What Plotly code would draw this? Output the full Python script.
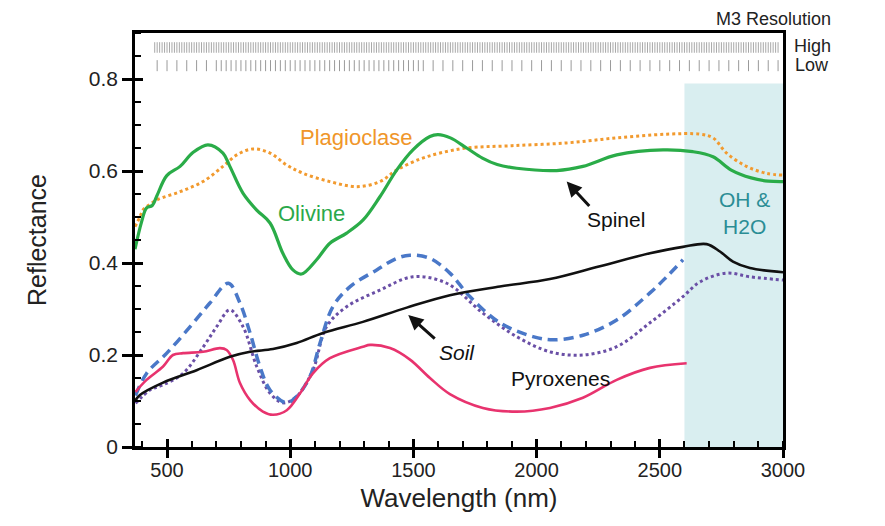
import plotly.graph_objects as go
import numpy as np

# ---------------- data ----------------
olivine_nm = [370, 397, 417, 440, 458, 499, 553, 605, 666, 727, 755, 808, 864, 918, 971, 1011, 1046,
              1107, 1161, 1229, 1295, 1364, 1432, 1498, 1567, 1600, 1650, 1716, 1780, 1840, 1919, 2081,
              2188, 2325, 2513, 2634, 2716, 2790, 2871, 2940, 3000]
olivine_r = [0.43, 0.49, 0.52, 0.525, 0.545, 0.59, 0.61, 0.64, 0.657, 0.639, 0.61, 0.552, 0.515, 0.487,
             0.42, 0.385, 0.376, 0.407, 0.443, 0.465, 0.493, 0.544, 0.602, 0.646, 0.675, 0.679, 0.672,
             0.65, 0.628, 0.614, 0.606, 0.601, 0.61, 0.635, 0.646, 0.642, 0.631, 0.602, 0.585, 0.578, 0.577]

plag_nm = [370, 390, 402, 417, 458, 553, 646, 727, 783, 849, 918, 986, 1052, 1161, 1270, 1364, 1432,
           1527, 1608, 1716, 1900, 2122, 2325, 2528, 2663, 2716, 2771, 2852, 2933, 3000]
plag_r = [0.479, 0.50, 0.515, 0.522, 0.537, 0.555, 0.577, 0.61, 0.635, 0.648, 0.639, 0.613, 0.595,
          0.577, 0.566, 0.577, 0.602, 0.626, 0.639, 0.65, 0.655, 0.661, 0.672, 0.68, 0.68, 0.672,
          0.639, 0.61, 0.595, 0.591]

soil_nm = [370, 390, 484, 620, 755, 837, 930, 1026, 1133, 1295, 1473, 1648, 1851, 2054, 2257, 2460,
           2594, 2690, 2744, 2797, 2866, 3000]
soil_r = [0.10, 0.113, 0.14, 0.167, 0.196, 0.207, 0.213, 0.226, 0.248, 0.272, 0.303, 0.33, 0.349,
          0.365, 0.393, 0.421, 0.435, 0.441, 0.425, 0.403, 0.389, 0.38]

pyx_dash_nm = [372, 417, 499, 593, 674, 749, 796, 837, 877, 918, 985, 1026, 1080, 1121, 1173, 1242,
               1351, 1432, 1486, 1567, 1648, 1729, 1851, 1985, 2066, 2188, 2325, 2460, 2528, 2594]
pyx_dash_r = [0.112, 0.16, 0.204, 0.261, 0.313, 0.356, 0.313, 0.248, 0.175, 0.124, 0.096, 0.11, 0.153,
              0.226, 0.305, 0.348, 0.385, 0.41, 0.417, 0.41, 0.378, 0.327, 0.27, 0.24, 0.233, 0.243,
              0.276, 0.335, 0.37, 0.407]

pyx_dot_nm = [372, 431, 484, 565, 650, 702, 755, 808, 864, 918, 971, 1026, 1092, 1148, 1229, 1364,
              1498, 1635, 1782, 1919, 2054, 2188, 2325, 2460, 2594, 2663, 2771, 2866, 3000]
pyx_dot_r = [0.095, 0.124, 0.135, 0.16, 0.22, 0.262, 0.298, 0.262, 0.175, 0.117, 0.096, 0.11, 0.167,
             0.262, 0.305, 0.341, 0.37, 0.356, 0.291, 0.24, 0.207, 0.20, 0.218, 0.27, 0.327, 0.359,
             0.378, 0.37, 0.363]

pyx_solid_nm = [372, 417, 484, 524, 565, 646, 715, 742, 768, 796, 837, 889, 930, 986, 1040, 1092,
                1161, 1295, 1324, 1405, 1486, 1567, 1648, 1782, 1919, 2054, 2188, 2325, 2460, 2609]
pyx_solid_r = [0.12, 0.146, 0.175, 0.20, 0.204, 0.207, 0.215, 0.211, 0.189, 0.139, 0.102, 0.077, 0.07,
               0.08, 0.117, 0.16, 0.193, 0.218, 0.222, 0.215, 0.19, 0.15, 0.115, 0.085, 0.077, 0.085,
               0.107, 0.146, 0.172, 0.182]

# M3 spectral channel positions (nm)
high_res_nm = list(range(450, 2990, 10))
low_res_nm = list(range(460, 700, 40)) + list(range(700, 1560, 20)) + list(range(1580, 3000, 40))

x_ticks = [500, 1000, 1500, 2000, 2500, 3000]
y_ticks = [0, 0.2, 0.4, 0.6, 0.8]
y_tick_text = ["0", "0.2", "0.4", "0.6", "0.8"]

FONT = "Liberation Sans, Arial, Helvetica, sans-serif"

fig = go.Figure()

# shaded OH & H2O region
fig.add_shape(type="rect", xref="x", yref="y", x0=2600, x1=3000, y0=0, y1=0.79,
              fillcolor="#d9eef0", line=dict(width=0), layer="below")


def tick_trace(xs, y0, y1, color):
    xx, yy = [], []
    for v in xs:
        xx += [v, v, None]
        yy += [y0, y1, None]
    return go.Scatter(x=xx, y=yy, mode="lines", line=dict(color=color, width=1),
                      hoverinfo="skip", showlegend=False)


fig.add_trace(tick_trace(high_res_nm, 0.857, 0.880, "#a8a8a8"))
fig.add_trace(tick_trace(low_res_nm, 0.817, 0.841, "#9a9a9a"))

fig.add_trace(go.Scatter(x=plag_nm, y=plag_r, mode="lines", line_shape="spline",
                         line=dict(color="#f29a2e", width=3, dash="3px,3px"), showlegend=False))
fig.add_trace(go.Scatter(x=olivine_nm, y=olivine_r, mode="lines", line_shape="spline",
                         line=dict(color="#2aac48", width=3.2), showlegend=False))
fig.add_trace(go.Scatter(x=pyx_dot_nm, y=pyx_dot_r, mode="lines", line_shape="spline",
                         line=dict(color="#6a4fa6", width=3, dash="3px,3px"), showlegend=False))
fig.add_trace(go.Scatter(x=pyx_dash_nm, y=pyx_dash_r, mode="lines", line_shape="spline",
                         line=dict(color="#4a78c8", width=3.5, dash="10px,6px"), showlegend=False))
fig.add_trace(go.Scatter(x=pyx_solid_nm, y=pyx_solid_r, mode="lines", line_shape="spline",
                         line=dict(color="#e8336e", width=2.6), showlegend=False))
fig.add_trace(go.Scatter(x=soil_nm, y=soil_r, mode="lines", line_shape="spline",
                         line=dict(color="#111111", width=2.6), showlegend=False))

# overlay axes to draw the inner part of the major ticks
fig.add_trace(go.Scatter(x=[None], y=[None], xaxis="x2", yaxis="y2", showlegend=False))

anns = [
    dict(text="Plagioclase", x=1270, y=0.673, font=dict(color="#f0962a", size=22)),
    dict(text="Olivine", x=1087, y=0.507, font=dict(color="#2aa84a", size=22)),
    dict(text="Spinel", x=2324, y=0.495, font=dict(color="#111", size=21)),
    dict(text="<i>Soil</i>", x=1675, y=0.205, font=dict(color="#111", size=21)),
    dict(text="Pyroxenes", x=2097, y=0.148, font=dict(color="#111", size=21)),
    dict(text="OH &<br>H2O", x=2845, y=0.509, font=dict(color="#2b8d95", size=21)),
]
for a in anns:
    fig.add_annotation(xref="x", yref="y", showarrow=False, font_family=FONT, **a)

# arrows
fig.add_annotation(x=2122, y=0.577, xref="x", yref="y", text="", showarrow=True, ax=24, ay=26,
                   arrowhead=2, arrowsize=1, arrowwidth=3, arrowcolor="#111")
fig.add_annotation(x=1479, y=0.287, xref="x", yref="y", text="", showarrow=True, ax=28, ay=25,
                   arrowhead=2, arrowsize=1, arrowwidth=3, arrowcolor="#111")

# resolution labels
fig.add_annotation(xref="paper", yref="paper", x=1.077, y=1.035, xanchor="right", yanchor="middle",
                   text="M3 Resolution", showarrow=False, font=dict(family=FONT, size=18, color="#222"))
fig.add_annotation(xref="paper", yref="y", x=1.077, y=0.872, xanchor="right", yanchor="middle",
                   text="High", showarrow=False, font=dict(family=FONT, size=18, color="#222"))
fig.add_annotation(xref="paper", yref="y", x=1.074, y=0.83, xanchor="right", yanchor="middle",
                   text="Low", showarrow=False, font=dict(family=FONT, size=18, color="#222"))

fig.update_layout(
    width=885, height=526,
    margin=dict(l=127, r=110, t=25, b=87),
    paper_bgcolor="white", plot_bgcolor="white",
    font=dict(family=FONT, color="#222"),
    xaxis=dict(range=[370, 3000], tickvals=x_ticks, ticks="outside", ticklen=8, tickwidth=2.5,
               tickcolor="black", showline=True, linewidth=2.5, linecolor="black", mirror=True,
               showgrid=False, zeroline=False, tickfont=dict(size=20), ticklabelstandoff=-5,
               minor=dict(dtick=100, tick0=0, ticks="inside", ticklen=6, tickwidth=2, tickcolor="black"),
               title=dict(text="Wavelength (nm)", font=dict(size=26), standoff=10)),
    yaxis=dict(range=[0, 0.9], tickvals=y_ticks, ticktext=y_tick_text,
               ticks="outside", ticklen=10, tickwidth=2.5,
               tickcolor="black", showline=True, linewidth=2.5, linecolor="black", mirror=True,
               showgrid=False, zeroline=False, tickfont=dict(size=21),
               minor=dict(dtick=0.05, tick0=0, ticks="inside", ticklen=6, tickwidth=2, tickcolor="black"),
               title=dict(text="Reflectance", font=dict(size=25), standoff=36)),
    xaxis2=dict(overlaying="x", matches="x", range=[370, 3000], tickvals=x_ticks, ticks="inside",
                ticklen=8, tickwidth=2.5, tickcolor="black", showticklabels=False, showgrid=False,
                zeroline=False, showline=False, anchor="y2", side="bottom"),
    yaxis2=dict(overlaying="y", matches="y", range=[0, 0.9], tickvals=y_ticks, ticks="inside",
                ticklen=8, tickwidth=2.5, tickcolor="black", showticklabels=False, showgrid=False,
                zeroline=False, showline=False, anchor="x2", side="left"),
    showlegend=False,
)

fig.write_html("out.html")
